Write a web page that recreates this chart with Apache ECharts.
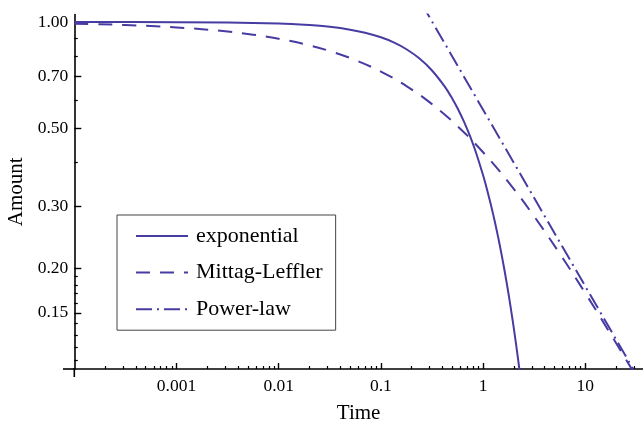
<!DOCTYPE html>
<html><head><meta charset="utf-8">
<script src="https://cdn.jsdelivr.net/npm/echarts@6/dist/echarts.min.js"></script>
<style>html,body{margin:0;padding:0;background:#fff}#chart{width:643px;height:421px}</style>
</head><body><div id="chart"></div>
<script>
// ---- data ----
const seriesNames = ['exponential', 'Mittag-Leffler', 'Power-law'];

const timeExp = [0.0001, 0.001, 0.01, 0.02, 0.03162, 0.05, 0.07, 0.1, 0.13335, 0.17783, 0.23714, 0.31623, 0.4217, 0.5, 0.56234, 0.65, 0.75, 0.85, 1.0, 1.1, 1.2, 1.3, 1.4, 1.5, 1.6, 1.7, 1.8, 1.9, 2.0, 2.1, 2.2, 2.3];
const amountExp = [0.9999, 0.9990, 0.99005, 0.98020, 0.96887, 0.95123, 0.93239, 0.90484, 0.87516, 0.83709, 0.78887, 0.72889, 0.65596, 0.60653, 0.56988, 0.52205, 0.47237, 0.42742, 0.36788, 0.33287, 0.30119, 0.27253, 0.24660, 0.22313, 0.20190, 0.18268, 0.16530, 0.14957, 0.13534, 0.12246, 0.11080, 0.10026];

const timeML = [0.0001, 0.0001778, 0.0003162, 0.0005623, 0.001, 0.001778, 0.003162, 0.005623, 0.01, 0.01778, 0.03162, 0.05623, 0.1, 0.1778, 0.3162, 0.5623, 1, 1.778, 3.162, 5.623, 10, 17.78, 31.62];
const amountML = [0.98882, 0.98513, 0.98025, 0.97379, 0.96530, 0.95414, 0.93958, 0.92071, 0.89646, 0.86567, 0.82719, 0.78000, 0.72358, 0.65814, 0.58508, 0.50699, 0.42758, 0.35141, 0.28130, 0.22079, 0.17058, 0.13031, 0.09881];

const timePow = [0.25, 1, 10, 36.7];
const amountPow = [1.1284, 0.5642, 0.17841, 0.09313];

const xTickValues = [0.001, 0.01, 0.1, 1, 10];
const xTickLabels = ['0.001', '0.01', '0.1', '1', '10'];
const xMinorTicks = [0.0002, 0.0003, 0.0004, 0.0005, 0.0006, 0.0007, 0.0008, 0.0009,
  0.002, 0.003, 0.004, 0.005, 0.006, 0.007, 0.008, 0.009,
  0.02, 0.03, 0.04, 0.05, 0.06, 0.07, 0.08, 0.09,
  0.2, 0.3, 0.4, 0.5, 0.6, 0.7, 0.8, 0.9,
  2, 3, 4, 5, 6, 7, 8, 9, 20, 30];
const yTickValues = [1.0, 0.7, 0.5, 0.3, 0.2, 0.15];
const yTickLabels = ['1.00', '0.70', '0.50', '0.30', '0.20', '0.15'];
const yMinorTicks = [0.9, 0.8, 0.6, 0.4, 0.19, 0.18, 0.17, 0.16, 0.14, 0.13, 0.12, 0.11];

const xMin = 0.0001, xMax = 36.7, yMin = 0.104, yMax = 1.05;

// ---- chart ----
const COLOR = '#473ca2';
const FONT = "'Liberation Serif', 'Times New Roman', serif";
function zip(a, b) { return a.map((v, i) => [v, b[i]]); }
function nearestLabel(v, vals, labels) {
  let best = 0, bd = Infinity;
  vals.forEach((t, i) => { const d = Math.abs(Math.log(t) - Math.log(v)); if (d < bd) { bd = d; best = i; } });
  return labels[best];
}

const chart = echarts.init(document.getElementById('chart'), null, { renderer: 'canvas' });
const axisLine = { show: true, lineStyle: { color: '#000', width: 1.6 } };

chart.setOption({
  animation: false,
  backgroundColor: '#fff',
  grid: { left: 74.3, right: 0, top: 14.5, bottom: 52, outerBoundsMode: 'none', containLabel: false },
  xAxis: [{
    type: 'log', min: xMin, max: xMax,
    name: 'Time', nameLocation: 'middle', nameGap: 34,
    nameTextStyle: { fontFamily: FONT, fontSize: 21, color: '#000' },
    axisLine: axisLine,
    axisTick: { show: true, inside: true, length: 6, customValues: xTickValues, lineStyle: { color: '#000', width: 1.4 } },
    axisLabel: { show: true, customValues: xTickValues, margin: 8, fontFamily: FONT, fontSize: 17.5, color: '#000',
      formatter: v => nearestLabel(v, xTickValues, xTickLabels) },
    splitLine: { show: false }, minorTick: { show: false }
  }, {
    type: 'log', min: xMin, max: xMax, position: 'bottom',
    axisLine: { show: false },
    axisTick: { show: true, inside: true, length: 3, customValues: xMinorTicks, lineStyle: { color: '#000', width: 1.2 } },
    axisLabel: { show: false }, splitLine: { show: false }
  }],
  yAxis: [{
    type: 'log', min: yMin, max: yMax,
    name: 'Amount', nameLocation: 'middle', nameGap: 37, nameRotate: 90,
    nameTextStyle: { fontFamily: FONT, fontSize: 21, color: '#000' },
    axisLine: axisLine,
    axisTick: { show: true, inside: true, length: 7, customValues: yTickValues, lineStyle: { color: '#000', width: 1.4 } },
    axisLabel: { show: true, customValues: yTickValues, margin: 6, fontFamily: FONT, fontSize: 17.5, color: '#000',
      formatter: v => nearestLabel(v, yTickValues, yTickLabels) },
    splitLine: { show: false }, minorTick: { show: false }
  }, {
    type: 'log', min: yMin, max: yMax, position: 'left',
    axisLine: { show: false },
    axisTick: { show: true, inside: true, length: 3.5, customValues: yMinorTicks, lineStyle: { color: '#000', width: 1.2 } },
    axisLabel: { show: false }, splitLine: { show: false }
  }],
  legend: {
    orient: 'vertical', left: 117, top: 215,
    data: seriesNames,
    itemWidth: 52, itemHeight: 14, itemGap: 14.6,
    padding: [10, 13, 10, 18],
    borderColor: '#444', borderWidth: 1, backgroundColor: '#fff',
    itemStyle: { color: 'rgba(0,0,0,0)', borderColor: 'rgba(0,0,0,0)', borderWidth: 0, opacity: 0 },
    lineStyle: { width: 2 },
    textStyle: { fontFamily: FONT, fontSize: 22, color: '#000', padding: [0, 0, 0, 3] }
  },
  series: [
    { name: seriesNames[0], type: 'line', xAxisIndex: 0, yAxisIndex: 0, data: zip(timeExp, amountExp),
      symbol: 'none', showSymbol: false, smooth: 0.3, clip: true,
      lineStyle: { color: COLOR, width: 2, type: 'solid' }, itemStyle: { color: COLOR } },
    { name: seriesNames[1], type: 'line', xAxisIndex: 0, yAxisIndex: 0, data: zip(timeML, amountML),
      symbol: 'none', showSymbol: false, smooth: 0.4, clip: true,
      lineStyle: { color: COLOR, width: 2, type: [14, 10] }, itemStyle: { color: COLOR } },
    { name: seriesNames[2], type: 'line', xAxisIndex: 0, yAxisIndex: 0, data: zip(timePow, amountPow),
      symbol: 'none', showSymbol: false, smooth: false, clip: true,
      lineStyle: { color: COLOR, width: 2, type: [16, 5, 2, 5] }, itemStyle: { color: COLOR } }
  ],
  graphic: [
    { type: 'line', shape: { x1: 63, y1: 369, x2: 75, y2: 369 }, style: { stroke: '#000', lineWidth: 1.6 }, silent: true },
    { type: 'line', shape: { x1: 74.3, y1: 368, x2: 74.3, y2: 377 }, style: { stroke: '#000', lineWidth: 1.6 }, silent: true }
  ]
});
</script>
</body></html>
